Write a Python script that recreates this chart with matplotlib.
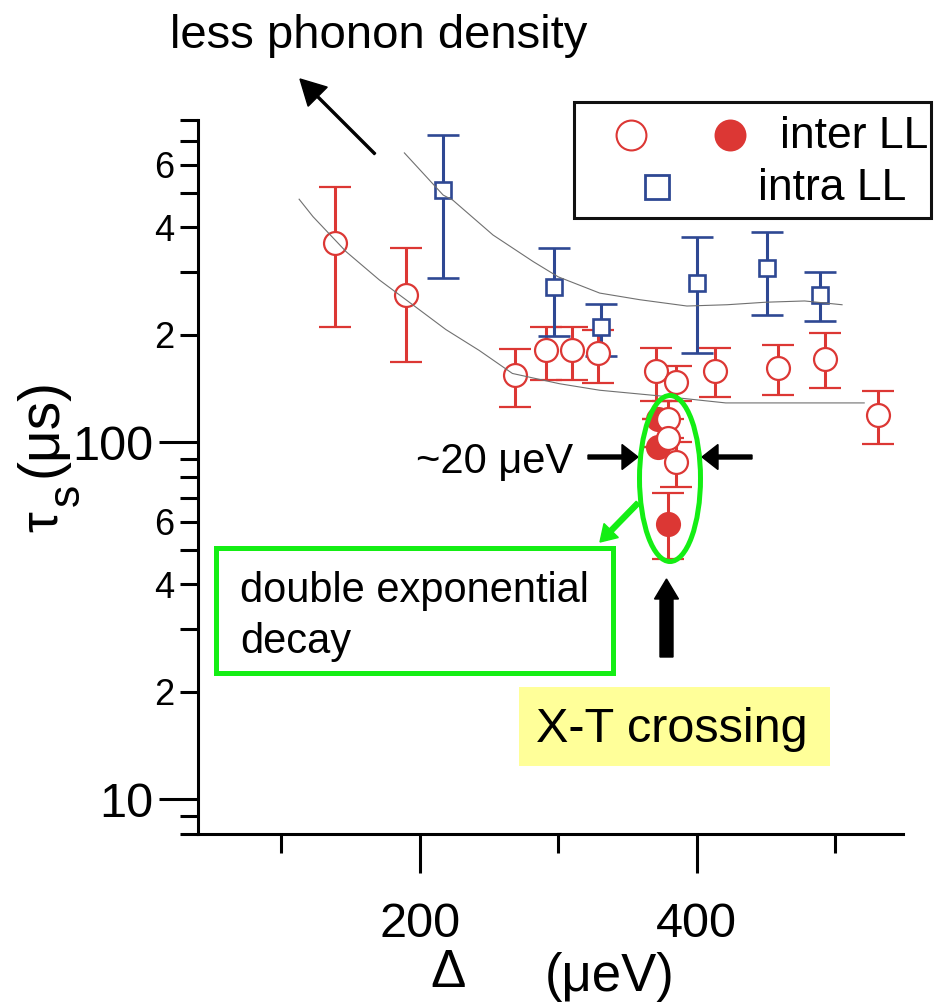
import numpy as np
import matplotlib
matplotlib.use('Agg')
import matplotlib.pyplot as plt
from matplotlib.patches import Ellipse, Rectangle
from matplotlib.ticker import FixedLocator, FuncFormatter

plt.rcParams['font.family'] = 'Liberation Sans'

# inter LL, open circles (Delta in ueV, tau_s in us, error bar ends)
inter_x = [139, 190, 269, 291, 310, 329, 371, 385, 413, 459, 493, 531, 379, 379, 385]
inter_y = [362, 259, 154, 181, 181, 178, 158, 148, 158, 162, 171, 119, 116, 103, 88]
inter_hi = [518, 350, 183, 210, 210, 206, 184, 164, 184, 187, 202, 139, 131, 116, 100]
inter_lo = [210, 168, 126, 150, 150, 147, 131, 131, 134, 136, 142, 99, 103, 92, 75]

# inter LL, filled circles (double exponential)
fill_x = [379, 372, 372]
fill_y = [59, 116, 97]
fill_hi = [72, 116, 97]
fill_lo = [47, 116, 97]

# intra LL, open squares
intra_x = [217, 297, 331, 400, 451, 489]
intra_y = [509, 273, 210, 279, 307, 259]
intra_hi = [726, 350, 244, 375, 389, 300]
intra_lo = [289, 198, 175, 178, 227, 219]

# guide curves
upper_x = [189, 217, 224, 253, 282, 300, 330, 359, 393, 422, 450, 478, 505]
upper_y = [647, 493, 477, 381, 321, 291, 262, 251, 241, 243, 247, 249, 243]
lower_x = [113, 123, 147, 171, 195, 219, 243, 267, 301, 330, 373, 421, 474, 521]
lower_y = [480, 429, 342, 285, 243, 207, 181, 156, 146, 140, 135, 129, 129, 129]

red = '#dc3734'
blue = '#2e4893'
green = '#14ee14'

fig = plt.figure(figsize=(9.35, 10.05), dpi=100)
ax = fig.add_axes([198/935, 171/1005, 705/935, 714/1005])


def err(y, lo, hi):
    y = np.array(y, float)
    return [y - np.array(lo), np.array(hi) - y]


ax.errorbar(fill_x, fill_y, yerr=err(fill_y, fill_lo, fill_hi), fmt='o',
            color=red, ms=16.5, mfc=red, mec=red, mew=1.6,
            elinewidth=2.2, capsize=11.5, capthick=2.2, zorder=1.9)
ax.errorbar(inter_x, inter_y, yerr=err(inter_y, inter_lo, inter_hi), fmt='o',
            color=red, ms=16.5, mfc='white', mec=red, mew=1.6,
            elinewidth=2.2, capsize=11.5, capthick=2.2, zorder=2)
ax.errorbar(intra_x, intra_y, yerr=err(intra_y, intra_lo, intra_hi), fmt='s',
            color=blue, ms=12, mfc='white', mec=blue, mew=1.9,
            elinewidth=2.2, capsize=11.5, capthick=2.2, zorder=2)

ax.plot(upper_x, upper_y, color='#707070', lw=0.8, zorder=3)
ax.plot(lower_x, lower_y, color='#707070', lw=0.8, zorder=3)

ax.set_yscale('log')
ax.set_ylim(8, 800)
ax.set_xlim(40, 549)

ax.yaxis.set_major_locator(FixedLocator([10, 100]))
ax.yaxis.set_major_formatter(FuncFormatter(lambda v, p: '%d' % round(v)))
ax.yaxis.set_minor_locator(FixedLocator([8, 9, 20, 30, 40, 50, 60, 70, 80, 90,
                                         200, 300, 400, 500, 600, 700, 800]))
minor_lab = {20: '2', 40: '4', 60: '6', 200: '2', 400: '4', 600: '6'}
ax.yaxis.set_minor_formatter(FuncFormatter(lambda v, p: minor_lab.get(int(round(v)), '')))

ax.xaxis.set_major_locator(FixedLocator([200, 400]))
ax.xaxis.set_minor_locator(FixedLocator([100, 300, 500]))
ax.xaxis.set_minor_formatter(FuncFormatter(lambda v, p: ''))

for s in ['top', 'right']:
    ax.spines[s].set_visible(False)
for s in ['left', 'bottom']:
    ax.spines[s].set_linewidth(2.2)

ax.tick_params(axis='y', which='major', length=28, width=2.2, pad=4, labelsize=35)
ax.tick_params(axis='y', which='minor', length=13, width=2.2, pad=4, labelsize=26)
ax.tick_params(axis='x', which='major', length=28, width=2.2, pad=21, labelsize=35)
ax.tick_params(axis='x', which='minor', length=14, width=2.2)

# overlay in pixel units for annotations
ov = fig.add_axes([0, 0, 1, 1])
ov.set_xlim(0, 935)
ov.set_ylim(1005, 0)
ov.axis('off')
ov.set_zorder(5)

# axis labels
ov.text(448, 973, 'Δ', ha='center', va='center', fontsize=38)
ov.text(610, 977, '(μeV)', ha='center', va='center', fontsize=38)
ov.text(57, 522, 'τ', rotation=90, rotation_mode='anchor', ha='center', va='baseline', fontsize=38)
ov.text(79, 495, 's', rotation=90, rotation_mode='anchor', ha='center', va='baseline', fontsize=32)
ov.text(57, 427, '(μs)', rotation=90, rotation_mode='anchor', ha='center', va='baseline', fontsize=41)

# less phonon density
ov.text(170, 48, 'less phonon density', ha='left', va='baseline', fontsize=34)
ov.arrow(375, 154, -75, -75, width=2, head_width=27, head_length=25,
         length_includes_head=True, color='k')

# legend
ov.add_patch(Rectangle((573.5, 101.5), 357, 116, fill=False, ec='#111111', lw=2.2))
ov.plot([631], [135], 'o', ms=21.5, mfc='white', mec=red, mew=1.5)
ov.plot([730], [135], 'o', ms=21.5, mfc=red, mec=red, mew=1.5)
ov.text(780, 148, 'inter LL', ha='left', va='baseline', fontsize=32)
ov.plot([657], [187], 's', ms=17, mfc='white', mec=blue, mew=2)
ov.text(758, 200, 'intra LL', ha='left', va='baseline', fontsize=32)

# ~20 ueV width
ov.text(573, 473, '~20 μeV', ha='right', va='baseline', fontsize=30)
ov.arrow(588, 457, 50, 0, width=4, head_width=25, head_length=16,
         length_includes_head=True, color='k')
ov.arrow(752, 457, -50, 0, width=4, head_width=25, head_length=16,
         length_includes_head=True, color='k')

# green ellipse, arrow and box
ov.add_patch(Ellipse((670, 478.5), 61, 166, fill=False, ec=green, lw=3.6))
ov.arrow(638, 503, -38, 39, width=5, head_width=20, head_length=16,
         length_includes_head=True, color=green)
ov.add_patch(Rectangle((215.5, 547.5), 397, 125, fill=False, ec=green, lw=3.6))
ov.text(240, 602, 'double exponential', ha='left', va='baseline', fontsize=30)
ov.text(240, 653, 'decay', ha='left', va='baseline', fontsize=30)

# X-T crossing
ov.arrow(666.5, 657, 0, -78, width=13, head_width=24, head_length=20,
         length_includes_head=True, color='k')
ov.add_patch(Rectangle((519, 687), 311, 79, fc='#ffff99', ec='none'))
ov.text(672, 729, 'X-T crossing', ha='center', va='center', fontsize=35)

fig.savefig('out.png', dpi=100)
